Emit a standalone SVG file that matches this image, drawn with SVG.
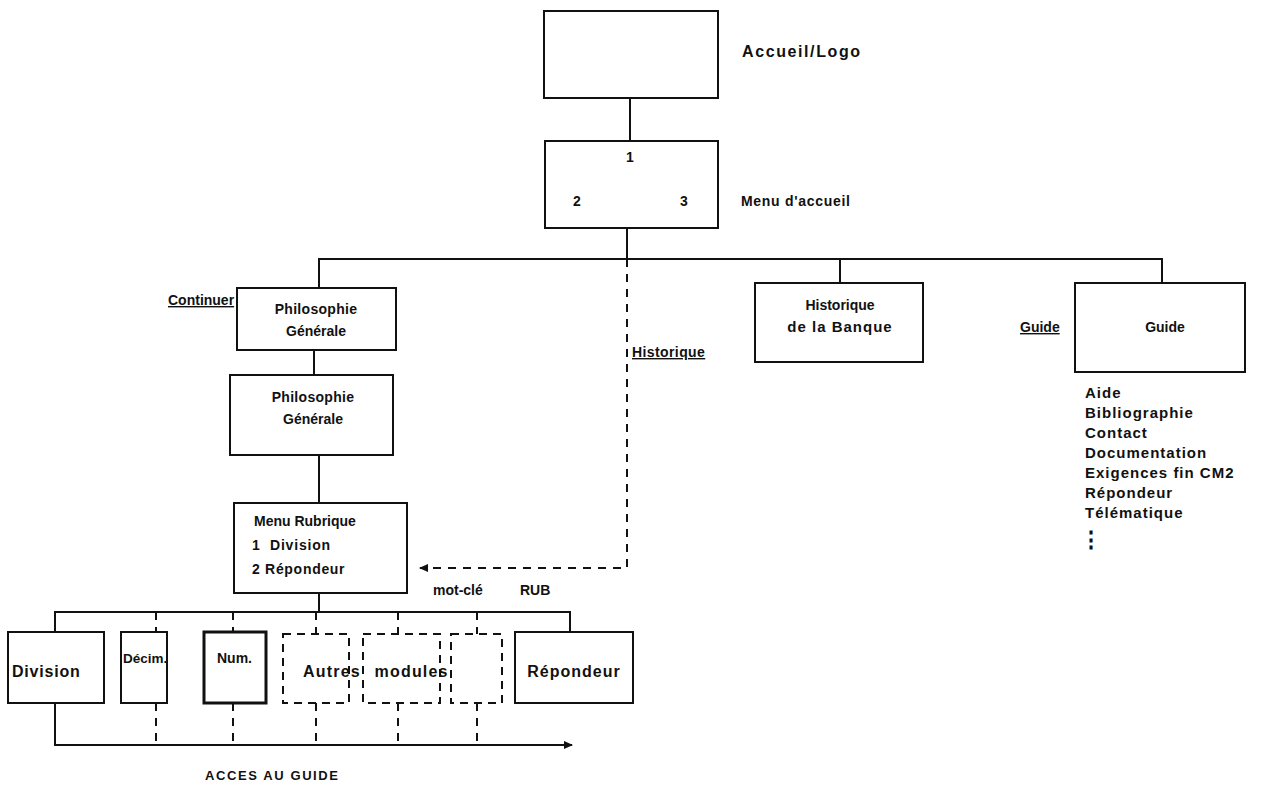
<svg xmlns="http://www.w3.org/2000/svg" width="1277" height="793" viewBox="0 0 1277 793">
  <style>
    .box { fill: #fff; stroke: #111; stroke-width: 2; }
    .dbox { fill: none; stroke: #111; stroke-width: 2; stroke-dasharray: 8 6; }
    .ln { fill: none; stroke: #111; stroke-width: 2; }
    .dl { fill: none; stroke: #111; stroke-width: 2; stroke-dasharray: 8 7; }
    text { font-family: "Liberation Sans", Arial, sans-serif; font-size: 14px; fill: #111; font-weight: bold; }
    .c { text-anchor: middle; }
    .u { text-decoration: underline; }
    .list { font-size: 15px; letter-spacing: 1px; }
    .mod { font-size: 16px; }
    .cap { font-size: 13px; letter-spacing: 1.6px; }
  </style>
  <defs>
    <marker id="arrow" markerWidth="10" markerHeight="10" refX="8" refY="5" orient="auto" markerUnits="userSpaceOnUse">
      <path d="M0,1 L9,5 L0,9 Z" fill="#111"/>
    </marker>
  </defs>

  <!-- connectors -->
  <g id="connectors">
    <line class="ln" x1="630" y1="98" x2="630" y2="141"/>
    <line class="ln" x1="627" y1="228" x2="627" y2="259"/>
    <polyline class="ln" points="319,288 319,259 1162,259 1162,283"/>
    <line class="ln" x1="840" y1="259" x2="840" y2="283"/>
    <line class="ln" x1="314" y1="350" x2="314" y2="375"/>
    <line class="ln" x1="319" y1="455" x2="319" y2="503"/>
    <polyline class="dl" points="627,259 627,568 420,568" marker-end="url(#arrow)"/>
    <line class="ln" x1="319" y1="593" x2="319" y2="612"/>
    <polyline class="ln" points="55,632 55,612 570,612 570,632"/>
    <line class="dl" x1="156" y1="612" x2="156" y2="632"/>
    <line class="dl" x1="233" y1="612" x2="233" y2="632"/>
    <line class="dl" x1="316" y1="612" x2="316" y2="634"/>
    <line class="dl" x1="398" y1="612" x2="398" y2="634"/>
    <line class="dl" x1="477" y1="612" x2="477" y2="634"/>
    <polyline class="ln" points="55,703 55,745 572,745" marker-end="url(#arrow)"/>
    <line class="dl" x1="156" y1="703" x2="156" y2="745"/>
    <line class="dl" x1="233" y1="703" x2="233" y2="745"/>
    <line class="dl" x1="316" y1="703" x2="316" y2="745"/>
    <line class="dl" x1="398" y1="703" x2="398" y2="745"/>
    <line class="dl" x1="477" y1="703" x2="477" y2="745"/>
  </g>

  <g id="accueil">
    <rect class="box" x="544" y="11" width="174" height="87"/>
    <text x="742" y="57" style="font-size:16px;letter-spacing:1.6px">Accueil/Logo</text>
  </g>

  <g id="menu-accueil">
    <rect class="box" x="545" y="141" width="173" height="87"/>
    <text x="630" y="162" class="c">1</text>
    <text x="577" y="206" class="c">2</text>
    <text x="684" y="206" class="c">3</text>
    <text x="741" y="206" style="letter-spacing:0.7px">Menu d'accueil</text>
  </g>

  <g id="philo-1">
    <text x="168" y="305" class="u">Continuer</text>
    <rect class="box" x="237" y="288" width="159" height="62"/>
    <text x="316" y="314" class="c" style="letter-spacing:0.3px">Philosophie</text>
    <text x="316" y="336" class="c">Générale</text>
  </g>

  <g id="philo-2">
    <rect class="box" x="230" y="375" width="163" height="80"/>
    <text x="313" y="402" class="c" style="letter-spacing:0.3px">Philosophie</text>
    <text x="313" y="424" class="c">Générale</text>
  </g>

  <g id="menu-rubrique">
    <rect class="box" x="234" y="503" width="173" height="90"/>
    <text x="254" y="526">Menu Rubrique</text>
    <text x="252" y="550">1</text>
    <text x="270" y="550" style="letter-spacing:0.8px">Division</text>
    <text x="252" y="574" style="letter-spacing:0.7px">2 Répondeur</text>
    <text x="433" y="595">mot-clé</text>
    <text x="520" y="595">RUB</text>
  </g>

  <g id="historique">
    <text x="632" y="357" class="u" style="letter-spacing:0.4px">Historique</text>
    <rect class="box" x="755" y="283" width="168" height="79"/>
    <text x="840" y="310" class="c">Historique</text>
    <text x="840" y="332" class="c" style="font-size:15px;letter-spacing:1px">de la Banque</text>
  </g>

  <g id="guide">
    <text x="1020" y="332" class="u">Guide</text>
    <rect class="box" x="1075" y="283" width="170" height="89"/>
    <text x="1165" y="332" class="c">Guide</text>
    <text x="1085" y="398" class="list">Aide</text>
    <text x="1085" y="418" class="list">Bibliographie</text>
    <text x="1085" y="438" class="list">Contact</text>
    <text x="1085" y="458" class="list">Documentation</text>
    <text x="1085" y="478" class="list">Exigences fin CM2</text>
    <text x="1085" y="498" class="list">Répondeur</text>
    <text x="1085" y="518" class="list">Télématique</text>
    <text x="1080" y="547" style="font-size:22px">⋮</text>
  </g>

  <g id="division">
    <rect class="box" x="8" y="632" width="96" height="71"/>
    <text x="12" y="677" class="mod" style="letter-spacing:0.8px">Division</text>
  </g>
  <g id="decim">
    <rect class="box" x="121" y="632" width="46" height="71"/>
    <text x="123" y="663" style="font-size:13.5px">Décim.</text>
  </g>
  <g id="num">
    <rect class="box" x="204" y="632" width="62" height="71" style="stroke-width:3"/>
    <text x="217" y="663">Num.</text>
  </g>
  <g id="autres-modules">
    <rect class="dbox" x="283" y="634" width="66" height="69"/>
    <rect class="dbox" x="363" y="634" width="77" height="69"/>
    <rect class="dbox" x="451" y="634" width="51" height="69"/>
    <text x="303" y="677" class="mod" style="letter-spacing:1.2px;word-spacing:8px">Autres modules</text>
  </g>
  <g id="repondeur">
    <rect class="box" x="515" y="632" width="118" height="71"/>
    <text x="574" y="677" class="mod c" style="letter-spacing:1px">Répondeur</text>
  </g>
  <text x="205" y="780" class="cap">ACCES AU GUIDE</text>
</svg>
